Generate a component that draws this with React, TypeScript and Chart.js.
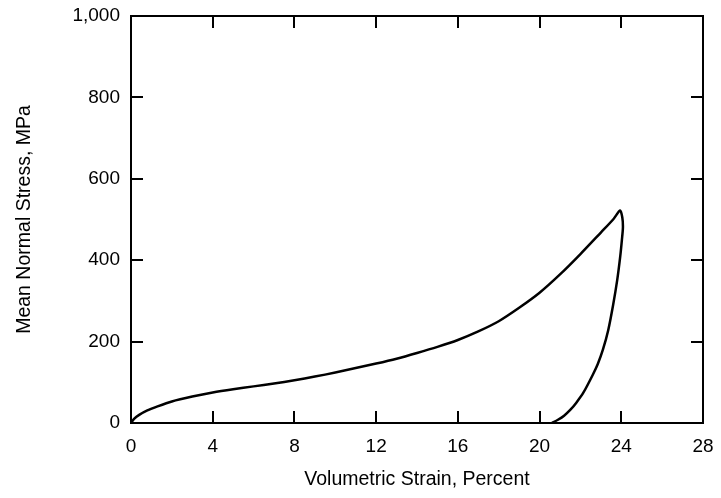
import React, { useEffect, useRef } from "react";
import { Chart, registerables } from "chart.js";

Chart.register(...registerables);

// Loading path (volumetric strain %, mean normal stress MPa)
const loadStrain = [0, 0.15, 0.4, 0.8, 1.3, 2, 3, 4, 5, 6, 7, 8, 9, 10, 11, 12, 13, 14, 15, 16, 17, 18, 19, 20, 21, 22, 23, 23.6, 23.94];
const loadStress = [0, 10, 20, 31, 41, 53, 65, 75, 83, 90, 97, 105, 114, 124, 135, 146, 158, 172, 187, 204, 225, 250, 283, 320, 365, 415, 468, 500, 522];
// Unloading path
const unloadStrain = [24.05, 24.08, 24.03, 23.95, 23.8, 23.6, 23.36, 23.1, 22.85, 22.6, 22.15, 21.8, 21.5, 21.2, 20.9, 20.6];
const unloadStress = [505, 480, 450, 410, 351, 290, 228, 180, 145, 118, 75, 50, 32, 18, 8, 0];

const xTicks = [0, 4, 8, 12, 16, 20, 24, 28];
const yTicks = [0, 200, 400, 600, 800, 1000];

const xTitle = "Volumetric Strain, Percent";
const yTitle = "Mean Normal Stress, MPa";

const FONT = "'Liberation Sans', Arial, Helvetica, sans-serif";

const framePlugin = {
  id: "frameTicks",
  afterDraw(chart: any) {
    const { ctx, chartArea } = chart;
    const xs = chart.scales.x;
    const ys = chart.scales.y;
    const L = chartArea.left, R = chartArea.right, T = chartArea.top, B = chartArea.bottom;
    const len = 12;
    ctx.save();
    ctx.strokeStyle = "#000";
    ctx.lineWidth = 2;
    ctx.lineCap = "butt";
    ctx.beginPath();
    ctx.rect(L, T, R - L, B - T);
    ctx.stroke();
    ctx.beginPath();
    xTicks.forEach((v) => {
      const px = Math.round(xs.getPixelForValue(v));
      ctx.moveTo(px, B);
      ctx.lineTo(px, B - len);
      ctx.moveTo(px, T);
      ctx.lineTo(px, T + len);
    });
    yTicks.forEach((v) => {
      const py = Math.round(ys.getPixelForValue(v));
      ctx.moveTo(L, py);
      ctx.lineTo(L + len, py);
      ctx.moveTo(R, py);
      ctx.lineTo(R - len, py);
    });
    ctx.stroke();
    ctx.restore();
  },
};

export default function App() {
  const ref = useRef<HTMLCanvasElement | null>(null);

  useEffect(() => {
    document.body.style.margin = "0";
    const canvas = ref.current;
    if (!canvas) return;
    const points = [
      ...loadStrain.map((x, i) => ({ x, y: loadStress[i] })),
      ...unloadStrain.map((x, i) => ({ x, y: unloadStress[i] })),
    ];
    const chart = new Chart(canvas, {
      type: "scatter",
      data: {
        datasets: [
          {
            data: points,
            showLine: true,
            borderColor: "#000",
            borderWidth: 2.5,
            pointRadius: 0,
            tension: 0.25,
            fill: false,
          },
        ],
      },
      options: {
        responsive: false,
        animation: false,
        devicePixelRatio: 1,
        layout: { padding: { left: 0, top: 16, right: 18, bottom: 0 } },
        plugins: { legend: { display: false }, tooltip: { enabled: false } },
        scales: {
          x: {
            type: "linear",
            min: 0,
            max: 28,
            afterBuildTicks: (s: any) => {
              s.ticks = xTicks.map((v) => ({ value: v }));
            },
            afterFit: (s: any) => {
              s.height = 75;
              s.paddingLeft = 0;
              s.paddingRight = 0;
            },
            grid: { display: false, drawTicks: false },
            border: { display: false },
            ticks: {
              color: "#000",
              padding: 12,
              font: { family: FONT, size: 19 },
              callback: (v: any) => String(v),
            },
            title: {
              display: true,
              text: xTitle,
              color: "#000",
              font: { family: FONT, size: 19.5 },
              padding: { top: 0, bottom: 7 },
            },
          },
          y: {
            type: "linear",
            min: 0,
            max: 1000,
            afterBuildTicks: (s: any) => {
              s.ticks = yTicks.map((v) => ({ value: v }));
            },
            afterFit: (s: any) => {
              s.width = 131;
              s.paddingTop = 0;
              s.paddingBottom = 0;
            },
            grid: { display: false, drawTicks: false },
            border: { display: false },
            ticks: {
              color: "#000",
              padding: 11,
              font: { family: FONT, size: 19 },
              callback: (v: any) => Number(v).toLocaleString("en-US"),
            },
            title: {
              display: true,
              text: yTitle,
              color: "#000",
              font: { family: FONT, size: 19.5 },
              padding: { top: 13, bottom: 0 },
            },
          },
        },
      },
      plugins: [framePlugin],
    } as any);
    return () => chart.destroy();
  }, []);

  return (
    <div style={{ width: 721, height: 498, background: "#fff" }}>
      <canvas ref={ref} width={721} height={498} style={{ display: "block" }} />
    </div>
  );
}
